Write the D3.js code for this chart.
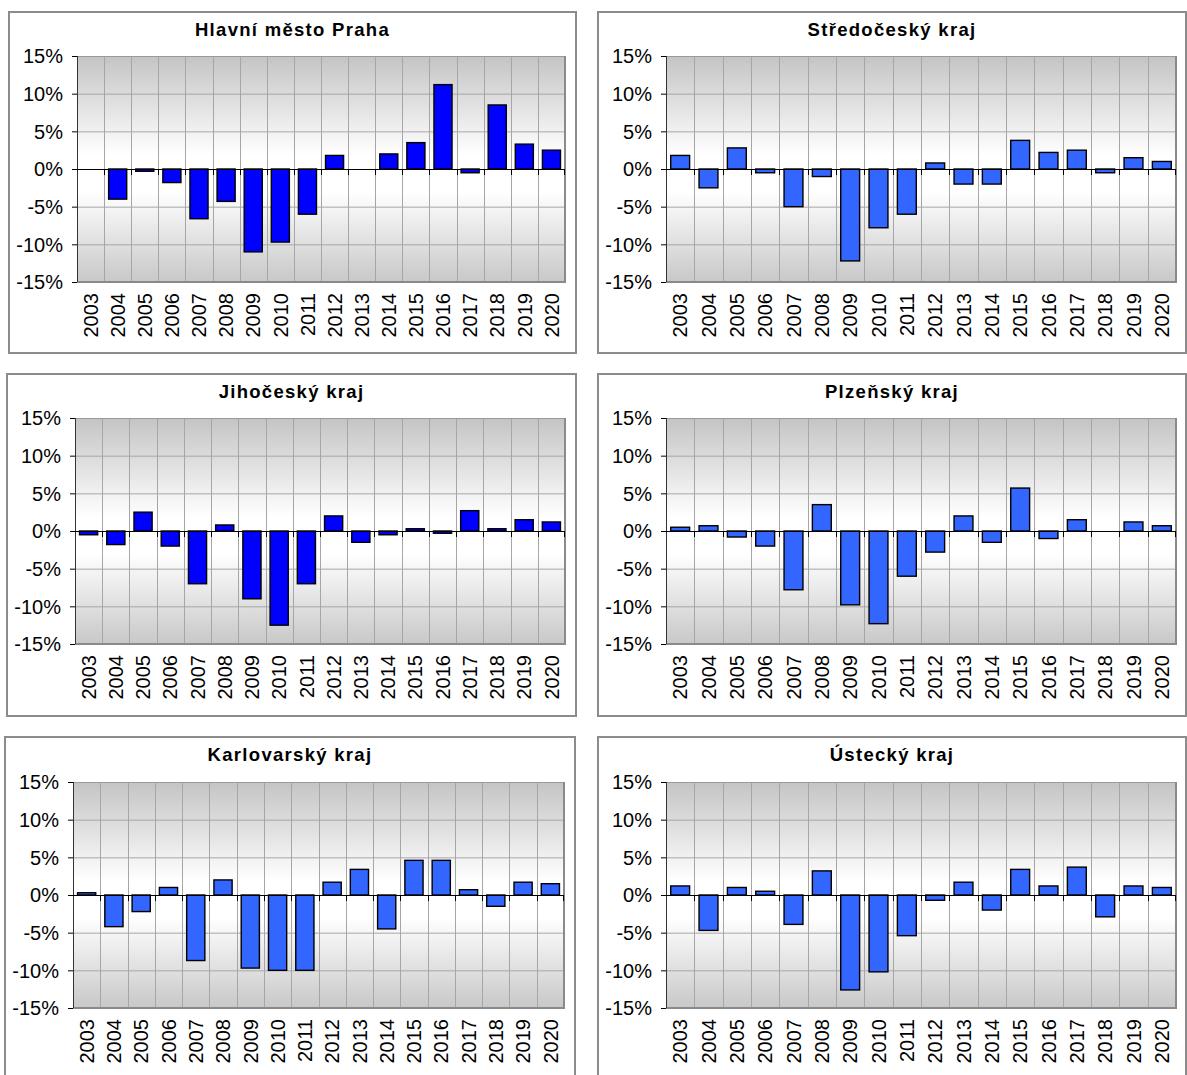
<!DOCTYPE html>
<html>
<head>
<meta charset="utf-8">
<script src="https://cdnjs.cloudflare.com/ajax/libs/d3/7.8.5/d3.min.js"></script>
<style>
  body { margin: 0; background: #fff; }
  svg { display: block; }
</style>
</head>
<body>
<div id="chart"></div>
<script>
// data
var years = ["2003", "2004", "2005", "2006", "2007", "2008", "2009", "2010", "2011",
             "2012", "2013", "2014", "2015", "2016", "2017", "2018", "2019", "2020"];
var yTicks = [-15, -10, -5, 0, 5, 10, 15];

var regions = ["Hlavní město Praha", "Středočeský kraj", "Jihočeský kraj",
               "Plzeňský kraj", "Karlovarský kraj", "Ústecký kraj"];

var praha       = [0, -4.0, -0.3, -1.8, -6.6, -4.3, -11.0, -9.7, -6.0, 1.8, 0, 2.0, 3.5, 11.2, -0.5, 8.5, 3.3, 2.5];
var stredocesky = [1.8, -2.5, 2.8, -0.5, -5.0, -1.0, -12.2, -7.8, -6.0, 0.8, -2.0, -2.0, 3.8, 2.2, 2.5, -0.5, 1.5, 1.0];
var jihocesky   = [-0.5, -1.8, 2.5, -2.0, -7.0, 0.8, -9.0, -12.5, -7.0, 2.0, -1.5, -0.5, 0.3, -0.3, 2.7, 0.3, 1.5, 1.2];
var plzensky    = [0.5, 0.7, -0.8, -2.0, -7.8, 3.5, -9.8, -12.3, -6.0, -2.8, 2.0, -1.5, 5.7, -1.0, 1.5, 0, 1.2, 0.7];
var karlovarsky = [0.3, -4.2, -2.2, 1.0, -8.7, 2.0, -9.7, -10.0, -10.0, 1.7, 3.4, -4.5, 4.6, 4.6, 0.7, -1.5, 1.7, 1.5];
var ustecky     = [1.2, -4.7, 1.0, 0.5, -3.9, 3.2, -12.6, -10.2, -5.4, -0.7, 1.7, -2.0, 3.4, 1.2, 3.7, -2.9, 1.2, 1.0];

var series = [praha, stredocesky, jihocesky, plzensky, karlovarsky, ustecky];

// layout of the six panels (border box + plot area)
var panels = [
    { bx0: 9, bx1: 576, by0: 12,  by1: 353,  px0: 77,  px1: 565,  py0: 56 },
    { bx0: 598, bx1: 1186, by0: 12, by1: 353, px0: 666, px1: 1176, py0: 56 },
    { bx0: 7, bx1: 576, by0: 374, by1: 716,  px0: 75,  px1: 565,  py0: 418 },
    { bx0: 598, bx1: 1186, by0: 374, by1: 716, px0: 666, px1: 1176, py0: 418 },
    { bx0: 5, bx1: 575, by0: 737, by1: 1100, px0: 73,  px1: 564,  py0: 782 },
    { bx0: 598, bx1: 1186, by0: 737, by1: 1100, px0: 666, px1: 1176, py0: 782 }
];
var plotH = 226;
var fills = ["#0000ff", "#3366ff", "#0000ff", "#3366ff", "#3366ff", "#3366ff"];
var font = "Liberation Sans, Arial, sans-serif";

window.onload = function () {

    var svg = d3.select("#chart").append("svg")
        .attr("width", 1187)
        .attr("height", 1075);

    // background gradient of the plot area
    var grad = svg.append("defs").append("linearGradient")
        .attr("id", "plotbg")
        .attr("x1", 0).attr("y1", 0).attr("x2", 0).attr("y2", 1);
    grad.append("stop").attr("offset", "0%").attr("stop-color", "#c4c4c4");
    grad.append("stop").attr("offset", "44%").attr("stop-color", "#ffffff");
    grad.append("stop").attr("offset", "60%").attr("stop-color", "#ffffff");
    grad.append("stop").attr("offset", "100%").attr("stop-color", "#c8c8c8");

    panels.forEach(function (p, k) {
        drawPanel(p, regions[k], series[k], fills[k]);
    });

    function drawPanel(p, title, values, fill) {
        var g = svg.append("g");
        var rows = values.map(function (v, i) { return { year: years[i], v: v }; });

        // outer frame
        g.append("rect")
            .attr("x", p.bx0).attr("y", p.by0)
            .attr("width", p.bx1 - p.bx0).attr("height", p.by1 - p.by0)
            .attr("fill", "#fff")
            .attr("stroke", "#8c8c8c")
            .attr("stroke-width", 2);

        g.append("text")
            .attr("x", (p.bx0 + p.bx1) / 2)
            .attr("y", p.by0 + 24)
            .attr("text-anchor", "middle")
            .style("font-family", font)
            .style("font-size", "18.5px")
            .style("font-weight", "bold")
            .style("letter-spacing", "1.3px")
            .text(title);

        var x = d3.scaleBand().domain(years).range([p.px0, p.px1]);
        var y = d3.scaleLinear().domain([-15, 15]).range([p.py0 + plotH, p.py0]);

        // plot area
        g.append("rect")
            .attr("x", p.px0).attr("y", p.py0)
            .attr("width", p.px1 - p.px0).attr("height", plotH)
            .attr("fill", "url(#plotbg)");

        // grid
        g.selectAll("line.hgrid").data(yTicks).enter().append("line")
            .attr("class", "hgrid")
            .attr("x1", p.px0).attr("x2", p.px1)
            .attr("y1", function (d) { return y(d) + 0.5; })
            .attr("y2", function (d) { return y(d) + 0.5; })
            .attr("stroke", "#a6a6a6");

        g.selectAll("line.vgrid").data(years.slice(1)).enter().append("line")
            .attr("class", "vgrid")
            .attr("x1", function (d) { return Math.round(x(d)) + 0.5; })
            .attr("x2", function (d) { return Math.round(x(d)) + 0.5; })
            .attr("y1", p.py0).attr("y2", p.py0 + plotH)
            .attr("stroke", "#a6a6a6");

        // plot border (darker right / bottom)
        g.append("rect")
            .attr("x", p.px0 + 0.5).attr("y", p.py0 + 0.5)
            .attr("width", p.px1 - p.px0 - 1).attr("height", plotH - 1)
            .attr("fill", "none")
            .attr("stroke", "#9a9a9a");
        g.append("path")
            .attr("d", "M" + (p.px1) + "," + p.py0 + "V" + (p.py0 + plotH) + "H" + p.px0)
            .attr("fill", "none")
            .attr("stroke", "#8a8a8a")
            .attr("stroke-width", 2);

        // bars
        var bw = x.bandwidth() * 2 / 3;
        g.selectAll("rect.bar").data(rows.filter(function (d) { return d.v !== 0; }))
            .enter().append("rect")
            .attr("class", "bar")
            .attr("x", function (d) { return x(d.year) + (x.bandwidth() - bw) / 2; })
            .attr("width", bw)
            .attr("y", function (d) { return y(Math.max(0, d.v)); })
            .attr("height", function (d) { return Math.abs(y(d.v) - y(0)); })
            .attr("fill", fill)
            .attr("stroke", "#000")
            .attr("stroke-width", 1.4);

        // y axis
        g.append("line")
            .attr("x1", p.px0 + 0.5).attr("x2", p.px0 + 0.5)
            .attr("y1", p.py0).attr("y2", p.py0 + plotH)
            .attr("stroke", "#333");
        g.selectAll("line.ytick").data(yTicks).enter().append("line")
            .attr("class", "ytick")
            .attr("x1", p.px0 - 5).attr("x2", p.px0)
            .attr("y1", function (d) { return y(d) + 0.5; })
            .attr("y2", function (d) { return y(d) + 0.5; })
            .attr("stroke", "#000");
        g.selectAll("text.ylab").data(yTicks).enter().append("text")
            .attr("class", "ylab")
            .attr("x", p.px0 - 14)
            .attr("y", function (d) { return y(d); })
            .attr("dy", "0.36em")
            .attr("text-anchor", "end")
            .style("font-family", font)
            .style("font-size", "20px")
            .text(function (d) { return d + "%"; });

        // zero axis with ticks at category edges
        g.append("line")
            .attr("x1", p.px0).attr("x2", p.px1)
            .attr("y1", y(0) + 0.5).attr("y2", y(0) + 0.5)
            .attr("stroke", "#000");
        g.selectAll("line.xtick").data(years.slice(1).concat(["end"])).enter().append("line")
            .attr("class", "xtick")
            .attr("x1", function (d) { return d === "end" ? p.px1 - 0.5 : Math.round(x(d)) + 0.5; })
            .attr("x2", function (d) { return d === "end" ? p.px1 - 0.5 : Math.round(x(d)) + 0.5; })
            .attr("y1", y(0)).attr("y2", y(0) + 6)
            .attr("stroke", "#000");

        // category labels
        g.selectAll("text.xlab").data(years).enter().append("text")
            .attr("class", "xlab")
            .attr("transform", function (d) {
                return "translate(" + (x(d) + x.bandwidth() / 2) + "," + (p.py0 + plotH + 11) + ") rotate(-90)";
            })
            .attr("dy", "0.36em")
            .attr("text-anchor", "end")
            .style("font-family", font)
            .style("font-size", "20px")
            .text(function (d) { return d; });
    }
};
</script>
</body>
</html>
